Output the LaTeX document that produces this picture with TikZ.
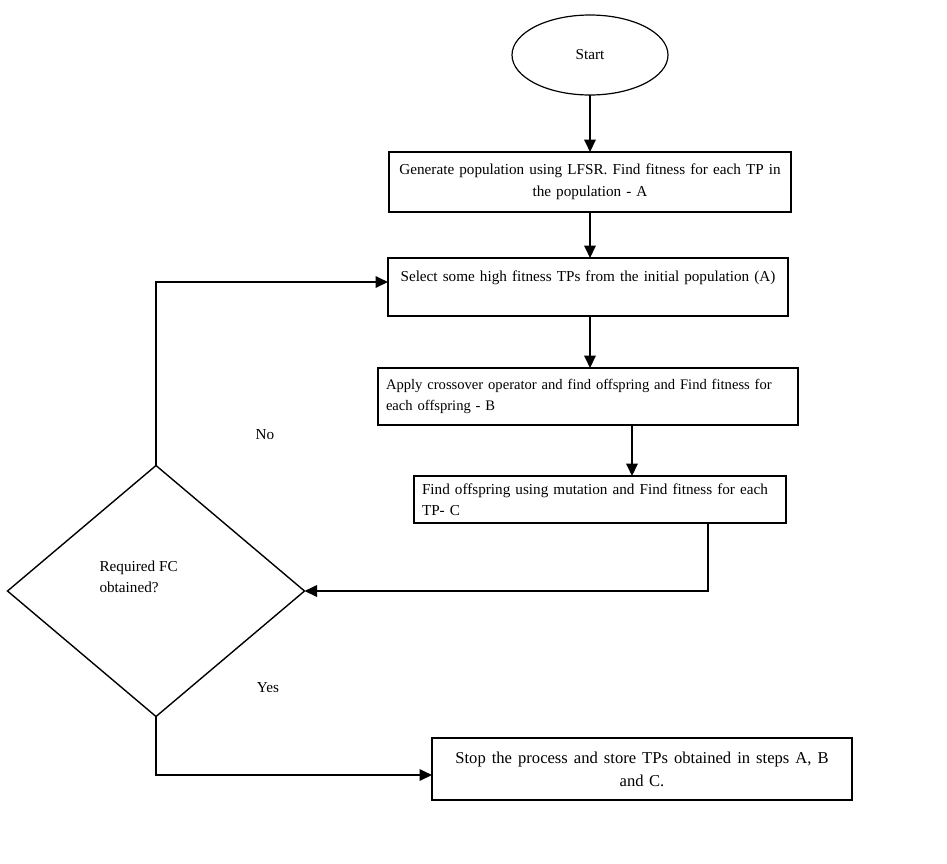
\documentclass[tikz,border=0pt]{standalone}
\usepackage{fontspec}
\setmainfont{Liberation Serif}
\usetikzlibrary{arrows.meta,shapes.geometric}
\begin{document}
\begin{tikzpicture}[x=1pt,y=-1pt,
  txt/.style={font=\fontsize{15.2}{21.5}\selectfont},
  box/.style={draw, line width=1.2pt, inner xsep=8pt, inner ysep=0pt, outer sep=0pt, txt},
  arr/.style={line width=1.8pt, -{Triangle[length=12.5pt,width=11.5pt]}}]
\useasboundingbox (0,0) rectangle (947,863);
\node[draw, line width=1.2pt, ellipse, minimum width=156pt, minimum height=80pt, inner sep=0pt, outer sep=0pt, txt] (start) at (590,55) {Start};
\node[box, minimum width=402pt, minimum height=60pt, text width=390pt, inner xsep=6pt, align=center] (boxA) at (590,182)
  {Generate population using LFSR. Find fitness for each TP in\\the population - A};
\node[box, minimum width=400pt, minimum height=58pt, text width=384pt, align=center] (box2) at (588,287)
  {Select some high fitness TPs from the initial population (A)\\\mbox{}};
\node[box, minimum width=420pt, minimum height=57pt, text width=404pt, align=left,
  font=\fontsize{14.6}{21}\selectfont] (box3) at (588,396.5)
  {Apply crossover operator and find offspring and Find fitness for\\each offspring - B};
\node[box, minimum width=372pt, minimum height=47pt, text width=356pt, align=left] (box4) at (600,499.5)
  {Find offspring using mutation and Find fitness for each\\TP- C};
\node[box, minimum width=420pt, minimum height=62pt, text width=408pt, inner xsep=6pt, align=center,
  font=\fontsize{16.6}{23}\selectfont] (final) at (642,769)
  {{\spaceskip=5.5pt plus 1pt minus 1pt\relax Stop the process and store TPs obtained in steps A, B}\\\mbox{and C.}};
\node[draw, line width=1.4pt, diamond, minimum width=297pt, minimum height=251pt, inner sep=0pt, outer sep=0pt] (dia) at (156,591) {};
\node[txt, align=left, anchor=west] (dtext) at (96,577) {Required FC\\obtained?};
\node[txt] (nolbl) at (265,435) {No};
\node[txt] (yeslbl) at (268,688) {Yes};
\draw[arr] (start.south) -- (start.south |- boxA.north);
\draw[arr] (boxA.south) -- (boxA.south |- box2.north);
\draw[arr] ([xshift=2pt]box2.south) -- ([xshift=2pt]box2.south |- box3.north);
\draw[arr] ([xshift=44pt]box3.south) -- ([xshift=44pt]box3.south |- box4.north);
\draw[arr] ([xshift=108pt]box4.south) |- (dia.east);
\draw[arr] (dia.north) |- ([yshift=5pt]box2.west);
\draw[arr] (dia.south) |- ([yshift=-6pt]final.west);
\end{tikzpicture}
\end{document}
